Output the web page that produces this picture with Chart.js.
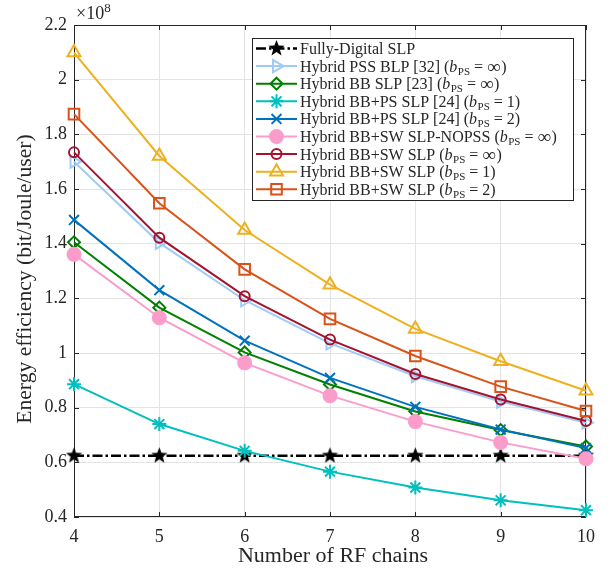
<!DOCTYPE html>
<html>
<head>
<meta charset="utf-8">
<script src="https://cdn.jsdelivr.net/npm/chart.js@4/dist/chart.umd.min.js"></script>
<style>
  html, body { margin: 0; padding: 0; background: #fff; }
  canvas { display: block; }
</style>
</head>
<body>
<canvas id="chart" width="611" height="574"></canvas>
<script>
// energy efficiency in units of 1e8 bit/Joule/user
const rfChains = [4, 5, 6, 7, 8, 9, 10];
const yTicks = [0.4, 0.6, 0.8, 1, 1.2, 1.4, 1.6, 1.8, 2, 2.2];

const fullyDigital = [0.624, 0.624, 0.624, 0.624, 0.624, 0.624, 0.624];
const pssBlp = [1.700, 1.403, 1.193, 1.035, 0.915, 0.822, 0.745];
const bbSlp = [1.405, 1.166, 1.002, 0.885, 0.786, 0.718, 0.658];
const bbPs1 = [0.886, 0.740, 0.642, 0.566, 0.508, 0.461, 0.425];
const bbPs2 = [1.487, 1.230, 1.045, 0.909, 0.803, 0.720, 0.652];
const swNopss = [1.361, 1.129, 0.964, 0.844, 0.749, 0.673, 0.613];
const swInf = [1.734, 1.422, 1.208, 1.049, 0.923, 0.830, 0.751];
const sw1 = [2.099, 1.721, 1.450, 1.250, 1.088, 0.970, 0.862];
const sw2 = [1.874, 1.548, 1.306, 1.125, 0.989, 0.877, 0.788];

const names = [
  "Fully-Digital SLP",
  "Hybrid PSS BLP [32]",
  "Hybrid BB SLP [23]",
  "Hybrid BB+PS SLP [24]",
  "Hybrid BB+PS SLP [24]",
  "Hybrid BB+SW SLP-NOPSS",
  "Hybrid BB+SW SLP",
  "Hybrid BB+SW SLP",
  "Hybrid BB+SW SLP"
];
const bpsValues = [null, "∞", "∞", "1", "2", "∞", "∞", "1", "2"];
const seriesData = [fullyDigital, pssBlp, bbSlp, bbPs1, bbPs2, swNopss, swInf, sw1, sw2];

const SERIF = "'Liberation Serif', 'DejaVu Serif', serif";
const INK = "#262626";
const AREA = { left: 74, right: 586, top: 25, bottom: 517 };

// filled five-point star, used as a point image
function makeStar(r, color) {
  const c = document.createElement("canvas");
  c.width = c.height = Math.ceil(r * 2 + 2);
  const g = c.getContext("2d");
  const cx = c.width / 2, cy = c.height / 2;
  g.beginPath();
  for (let i = 0; i < 10; i++) {
    const rad = i % 2 === 0 ? r : r * 0.42;
    const a = -Math.PI / 2 + i * Math.PI / 5;
    g.lineTo(cx + rad * Math.cos(a), cy + rad * Math.sin(a));
  }
  g.closePath();
  g.fillStyle = color;
  g.fill();
  return c;
}

const none = "rgba(0,0,0,0)";
const styles = [
  { color: "#000000", point: makeStar(8.5, "#000"), radius: 8, fill: "#000", dash: [10, 3, 2.5, 3], width: 2.5 },
  { color: "#a0cbf8", point: "triangle", radius: 7, rotation: 90, fill: none },
  { color: "#008000", point: "rectRot", radius: 6, fill: none },
  { color: "#00bfbf", point: "star", radius: 7, fill: none },
  { color: "#0072bd", point: "crossRot", radius: 7, fill: none },
  { color: "#fb9ccb", point: "circle", radius: 6.5, fill: "#fb9ccb" },
  { color: "#a2142f", point: "circle", radius: 5, fill: none },
  { color: "#edb120", point: "triangle", radius: 7.5, fill: none },
  { color: "#d95319", point: "rect", radius: 7.5, fill: none }
];

const datasets = seriesData.map((d, i) => ({
  label: names[i],
  data: d.map((v, k) => ({ x: rfChains[k], y: v })),
  borderColor: styles[i].color,
  backgroundColor: styles[i].fill,
  borderWidth: styles[i].width || 2,
  borderDash: styles[i].dash || [],
  pointStyle: styles[i].point,
  pointRadius: styles[i].radius,
  pointRotation: styles[i].rotation || 0,
  pointBorderColor: styles[i].color,
  pointBackgroundColor: styles[i].fill,
  pointBorderWidth: 2,
  tension: 0,
  clip: 12,
  order: seriesData.length - i
}));

// text stretched a little sideways so the serif runs as wide as a TeX face
function wideText(ctx, text, x, y, font, sx) {
  ctx.save();
  ctx.translate(x, y);
  ctx.scale(sx, 1);
  ctx.font = font;
  ctx.fillText(text, 0, 0);
  ctx.restore();
}

// draws "name (b_PS = v)"
function legendLabel(ctx, name, val, x, cy) {
  ctx.font = "16px " + SERIF;
  if (val === null) {
    ctx.fillText(name, x, cy);
    return;
  }
  const head = name + " (";
  ctx.fillText(head, x, cy);
  x += ctx.measureText(head).width;
  ctx.font = "italic 16px " + SERIF;
  ctx.fillText("b", x, cy);
  x += ctx.measureText("b").width + 0.5;
  ctx.font = "11px " + SERIF;
  ctx.fillText("PS", x, cy + 3);
  x += ctx.measureText("PS").width + 4;
  ctx.font = "16px " + SERIF;
  ctx.fillText("=", x, cy);
  x += ctx.measureText("=").width + 4;
  if (val === "∞") {
    ctx.font = "19px " + SERIF;
    ctx.fillText(val, x, cy + 1);
    x += ctx.measureText(val).width + 0.5;
  } else {
    ctx.fillText(val, x, cy);
    x += ctx.measureText(val).width;
  }
  ctx.font = "16px " + SERIF;
  ctx.fillText(")", x, cy);
}

// axes box with inward ticks, titles, exponent and legend
const decorations = {
  id: "decorations",
  beforeDatasetsDraw(chart) {
    const ctx = chart.ctx;
    const x = chart.scales.x, y = chart.scales.y;
    ctx.save();
    ctx.strokeStyle = INK;
    ctx.lineWidth = 1;
    ctx.strokeRect(AREA.left + 0.5, AREA.top + 0.5, AREA.right - AREA.left - 1, AREA.bottom - AREA.top - 1);
    ctx.beginPath();
    rfChains.forEach(v => {
      const px = Math.round(x.getPixelForValue(v)) + 0.5;
      ctx.moveTo(px, AREA.bottom); ctx.lineTo(px, AREA.bottom - 5);
      ctx.moveTo(px, AREA.top); ctx.lineTo(px, AREA.top + 5);
    });
    yTicks.forEach(v => {
      const py = Math.round(y.getPixelForValue(v)) + 0.5;
      ctx.moveTo(AREA.left, py); ctx.lineTo(AREA.left + 5, py);
      ctx.moveTo(AREA.right, py); ctx.lineTo(AREA.right - 5, py);
    });
    ctx.stroke();
    ctx.restore();
  },
  afterDraw(chart) {
    const ctx = chart.ctx;
    ctx.save();
    ctx.fillStyle = INK;

    // axis titles
    ctx.textAlign = "center";
    ctx.textBaseline = "alphabetic";
    wideText(ctx, "Number of RF chains", (AREA.left + AREA.right) / 2 + 3, 562, "20px " + SERIF, 1.1);
    ctx.save();
    ctx.translate(31, 279);
    ctx.rotate(-Math.PI / 2);
    wideText(ctx, "Energy efficiency (bit/Joule/user)", 0, 0, "20px " + SERIF, 1.08);
    ctx.restore();

    // ×10^8 exponent
    ctx.textAlign = "left";
    ctx.font = "18px " + SERIF;
    ctx.fillText("×10", 76, 19);
    const w = ctx.measureText("×10").width;
    ctx.font = "13px " + SERIF;
    ctx.fillText("8", 76 + w, 12);

    // legend
    const box = { x: 252, y: 38, w: 321, h: 162 };
    ctx.fillStyle = "#fff";
    ctx.fillRect(box.x, box.y, box.w, box.h);
    ctx.strokeStyle = INK;
    ctx.lineWidth = 1;
    ctx.strokeRect(box.x + 0.5, box.y + 0.5, box.w, box.h);
    const rowH = 17.6;
    names.forEach((name, i) => {
      const cy = box.y + 10.5 + i * rowH;
      const st = styles[i];
      ctx.save();
      ctx.strokeStyle = st.color;
      ctx.lineWidth = st.width || 2;
      ctx.setLineDash(st.dash ? st.dash : []);
      ctx.beginPath();
      ctx.moveTo(256, cy);
      ctx.lineTo(297, cy);
      ctx.stroke();
      ctx.setLineDash([]);
      ctx.lineWidth = 2;
      ctx.fillStyle = st.fill;
      Chart.helpers.drawPoint(ctx, {
        pointStyle: st.point, radius: st.radius, rotation: st.rotation || 0, borderWidth: 2
      }, 276.5, cy);
      ctx.restore();

      ctx.fillStyle = INK;
      ctx.textBaseline = "alphabetic";
      legendLabel(ctx, name, bpsValues[i], 300, cy + 5.5);
    });
    ctx.restore();
  }
};

new Chart(document.getElementById("chart"), {
  type: "line",
  data: { datasets },
  options: {
    responsive: false,
    animation: false,
    layout: { padding: { left: 0, top: AREA.top, right: 611 - AREA.right, bottom: 0 } },
    plugins: { legend: { display: false }, tooltip: { enabled: false } },
    scales: {
      x: {
        type: "linear",
        min: 4,
        max: 10,
        afterFit: s => { s.height = 574 - AREA.bottom; },
        afterBuildTicks: s => { s.ticks = rfChains.map(v => ({ value: v })); },
        grid: { color: "#e3e3e3", drawTicks: false },
        border: { display: false },
        ticks: {
          padding: 9,
          color: INK,
          font: { family: SERIF, size: 18 },
          maxRotation: 0,
          callback: v => String(v)
        }
      },
      y: {
        min: 0.4,
        max: 2.2,
        afterFit: s => { s.width = AREA.left; },
        afterBuildTicks: s => { s.ticks = yTicks.map(v => ({ value: v })); },
        grid: { color: "#e3e3e3", drawTicks: false },
        border: { display: false },
        ticks: {
          padding: 7,
          color: INK,
          font: { family: SERIF, size: 18 },
          callback: v => String(+v.toFixed(1))
        }
      }
    }
  },
  plugins: [decorations]
});
</script>
</body>
</html>
